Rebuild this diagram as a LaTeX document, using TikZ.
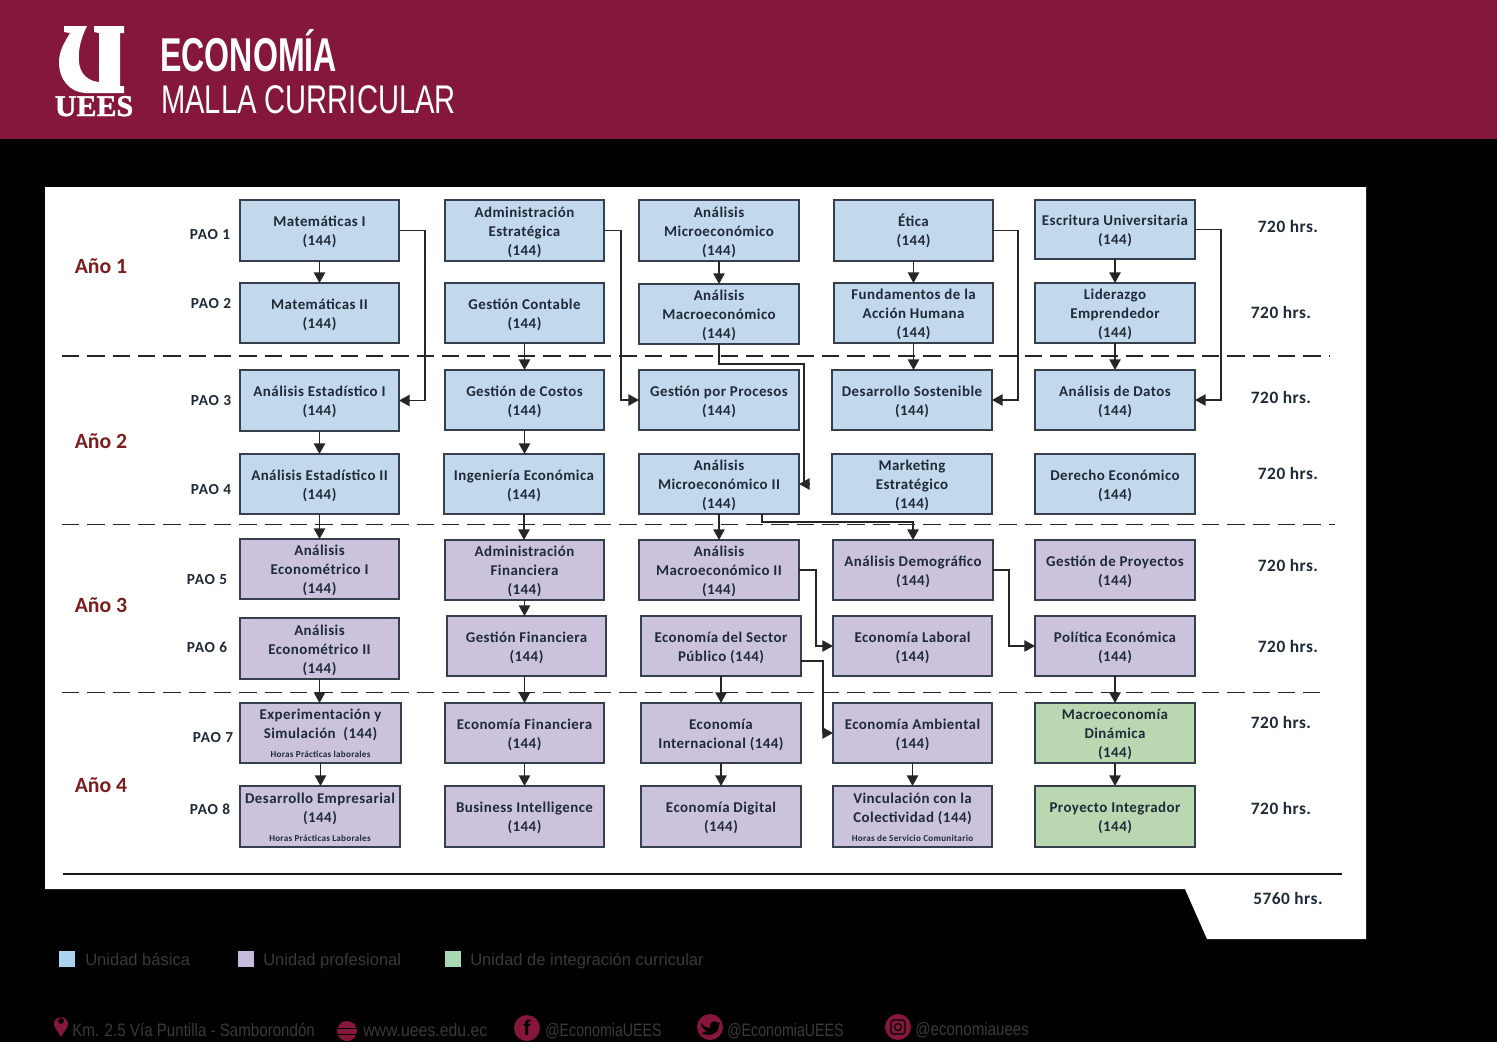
\documentclass[tikz,border=0pt]{standalone}
\usepackage{fontspec}
\usepackage{graphicx}
\setmainfont{Carlito}
\newfontfamily\hsans{Liberation Sans}
\newfontfamily\hserif{Liberation Serif}
\usetikzlibrary{arrows.meta,shadows}
\definecolor{crimson}{HTML}{84173A}
\definecolor{bluebox}{HTML}{C2D8EC}
\definecolor{purplebox}{HTML}{CBC3DE}
\definecolor{greenbox}{HTML}{B9D8B1}
\definecolor{inkc}{HTML}{1F2A38}
\definecolor{edgec}{HTML}{36404C}
\definecolor{yearc}{HTML}{7A1E1E}
\definecolor{dimtext}{HTML}{3A3A3A}
\definecolor{legb}{HTML}{A9D3EE}
\definecolor{legp}{HTML}{C5BBDC}
\definecolor{legg}{HTML}{A9D8B4}
\tikzset{
  box/.style={draw=edgec,line width=.9pt,inner sep=0pt,outer sep=0pt,align=center,text=inkc,
    font=\addfontfeature{LetterSpace=3}\fontsize{11.2}{14.25}\selectfont\bfseries,
    drop shadow={shadow xshift=0.5pt,shadow yshift=-1pt,opacity=.25,fill=black}},
  conn/.style={draw=black!85,line width=1.1pt,-{Triangle[length=8pt,width=8.5pt]}},
  connthin/.style={draw=black!85,line width=.8pt,-{Triangle[length=8pt,width=8.5pt]}},
  plainl/.style={draw=black!85,line width=1.1pt},
  sep/.style={draw=black!85,line width=1.2pt,dash pattern=on 13pt off 6pt},
  pao/.style={font=\addfontfeature{LetterSpace=5}\fontsize{11.5}{13}\selectfont\bfseries,text=inkc,inner sep=0pt},
  hrs/.style={font=\addfontfeature{LetterSpace=3}\fontsize{13}{15}\selectfont\bfseries,text=inkc,inner sep=0pt},
  year/.style={font=\fontsize{16.3}{18}\selectfont\bfseries,text=yearc,inner sep=0pt},
  legt/.style={font=\hsans\fontsize{12.4}{14}\selectfont,text=dimtext,inner sep=0pt,anchor=base west},
  foot/.style={font=\hsans\fontsize{13.5}{16}\selectfont,text=dimtext,inner sep=0pt,anchor=west},
  sq/.style={inner sep=0pt,minimum width=12pt,minimum height=12pt},
  ico/.style={circle,fill=crimson,inner sep=0pt,minimum size=19.5pt,text=black},
}
\newcommand{\bx}[7]{%
  \pgfmathsetmacro{\bw}{(#4-#2)*0.75}\pgfmathsetmacro{\bh}{(#5-#3)*0.75}%
  \node[box,fill=#6,minimum width=\bw pt,minimum height=\bh pt] (#1) at ({(#2+#4)/2},{(#3+#5)/2})
    {\raisebox{-1.4pt}[\height][\depth]{\begin{tabular}{@{}c@{}}#7\end{tabular}}};}
\newcommand{\smalln}[1]{{\fontsize{6.85}{14.25}\selectfont #1}}
\begin{document}
\begin{tikzpicture}[x=0.75pt,y=-0.75pt]
\useasboundingbox (0,0) rectangle (1497,1058);
% backgrounds
\fill[black] (0,139) rectangle (1497,1042);
\fill[crimson] (0,0) rectangle (1497,139);
\fill[white] (45,187) -- (1366,187) -- (1366,939) -- (1207,939) -- (1185,889) -- (45,889) -- cycle;
% logo
\fill[white] (64,26) -- (87,26) .. controls (80,40) and (78,52) .. (79,62) .. controls (80,74) and (88,81) .. (99,82)
  -- (99,33) -- (94,32) -- (94,26) -- (124,26) -- (124,33) -- (120,33) -- (120,86) -- (124,86) -- (124,93) -- (85,93)
  .. controls (70,92) and (59,80) .. (59,62) .. controls (59,50) and (66,40) .. (70,33) -- (64,32) -- cycle;
\node[inner sep=0pt,anchor=base,text=white,font=\hserif\bfseries\addfontfeature{FakeBold=1.5}\fontsize{22.5}{24}\selectfont] (logot) at (94,116) {UEES};
\node[inner sep=0pt,anchor=base west,text=white,font=\hsans\fontsize{35.6}{38}\selectfont\bfseries] (title) at (160,71) {\scalebox{.677}[1]{ECONOMÍA}};
\node[inner sep=0pt,anchor=base west,text=white,font=\hsans\fontsize{30}{32}\selectfont] (subt) at (161,113) {\scalebox{.728}[1]{MALLA CURRICULAR}};
% separators
\coordinate (s1a) at (62,356); \coordinate (s1b) at (1330,356);
\coordinate (s2a) at (62,524.5); \coordinate (s2b) at (1335,524.5);
\coordinate (s3a) at (62,692.5); \coordinate (s3b) at (1320,692.5);
\coordinate (s4a) at (63,874); \coordinate (s4b) at (1342,874);
\draw[sep] (s1a) -- (s1b);
\draw[sep] (s2a) -- (s2b);
\draw[sep] (s3a) -- (s3b);
\draw[draw=black!90,line width=2pt] (s4a) -- (s4b);
% boxes row 1
\bx{m1}{240}{200}{399}{261}{bluebox}{Matemáticas I\\(144)}
\bx{adm}{445}{200}{604}{261}{bluebox}{Administración\\Estratégica\\(144)}
\bx{amic}{639}{200}{799}{261}{bluebox}{Análisis\\Microeconómico\\(144)}
\bx{eti}{834}{200}{993}{261}{bluebox}{Ética\\(144)}
\bx{esc}{1035}{200}{1195}{259}{bluebox}{Escritura Universitaria\\(144)}
% row 2
\bx{m2}{240}{283}{399}{343}{bluebox}{Matemáticas II\\(144)}
\bx{gc}{445}{283}{604}{343}{bluebox}{Gestión Contable\\(144)}
\bx{amac}{639}{284}{799}{344}{bluebox}{Análisis\\Macroeconómico\\(144)}
\bx{fund}{834}{283}{993}{343}{bluebox}{Fundamentos de la\\Acción Humana\\(144)}
\bx{lid}{1035}{283}{1195}{343}{bluebox}{Liderazgo\\Emprendedor\\(144)}
% row 3
\bx{ae1}{240}{370}{399}{431}{bluebox}{Análisis Estadístico I\\(144)}
\bx{gcos}{445}{370}{604}{430}{bluebox}{Gestión de Costos\\(144)}
\bx{gpp}{639}{370}{799}{430}{bluebox}{Gestión por Procesos\\(144)}
\bx{ds}{832}{370}{992}{430}{bluebox}{Desarrollo Sostenible\\(144)}
\bx{adat}{1035}{370}{1195}{430}{bluebox}{Análisis de Datos\\(144)}
% row 4
\bx{ae2}{240}{454}{399}{514}{bluebox}{Análisis Estadístico II\\(144)}
\bx{ie}{444}{454}{604}{514}{bluebox}{Ingeniería Económica\\(144)}
\bx{am2}{639}{454}{799}{514}{bluebox}{Análisis\\Microeconómico II\\(144)}
\bx{mkt}{832}{454}{992}{514}{bluebox}{Marketing\\Estratégico\\(144)}
\bx{dec}{1035}{454}{1195}{514}{bluebox}{Derecho Económico\\(144)}
% row 5
\bx{aec1}{240}{539}{399}{599}{purplebox}{Análisis\\Econométrico I\\(144)}
\bx{af}{445}{540}{604}{600}{purplebox}{Administración\\Financiera\\(144)}
\bx{amac2}{639}{540}{799}{600}{purplebox}{Análisis\\Macroeconómico II\\(144)}
\bx{adem}{833}{540}{993}{600}{purplebox}{Análisis Demográfico\\(144)}
\bx{gp}{1035}{540}{1195}{600}{purplebox}{Gestión de Proyectos\\(144)}
% row 6
\bx{aec2}{240}{618}{399}{679}{purplebox}{Análisis\\Econométrico II\\(144)}
\bx{gf}{447}{616}{606}{676}{purplebox}{Gestión Financiera\\(144)}
\bx{esp}{641}{616}{801}{676}{purplebox}{Economía del Sector\\Público (144)}
\bx{el}{833}{616}{992}{676}{purplebox}{Economía Laboral\\(144)}
\bx{pe}{1035}{616}{1195}{676}{purplebox}{Política Económica\\(144)}
% row 7
\bx{exp}{240}{703}{401}{763}{purplebox}{Experimentación y\\Simulación~ (144)\\\smalln{Horas Prácticas laborales}}
\bx{efin}{445}{703}{604}{763}{purplebox}{Economía Financiera\\(144)}
\bx{ei}{641}{703}{801}{763}{purplebox}{Economía\\Internacional (144)}
\bx{ea}{833}{703}{992}{763}{purplebox}{Economía Ambiental\\(144)}
\bx{mdin}{1035}{703}{1195}{763}{greenbox}{Macroeconomía\\Dinámica\\(144)}
% row 8
\bx{de}{240}{786}{400}{847}{purplebox}{Desarrollo Empresarial\\(144)\\\smalln{Horas Prácticas Laborales}}
\bx{bi}{445}{786}{604}{847}{purplebox}{Business Intelligence\\(144)}
\bx{ed}{641}{786}{801}{847}{purplebox}{Economía Digital\\(144)}
\bx{vc}{833}{786}{992}{847}{purplebox}{Vinculación con la\\Colectividad (144)\\\smalln{Horas de Servicio Comunitario}}
\bx{pi}{1035}{786}{1195}{847}{greenbox}{Proyecto Integrador\\(144)}
% vertical connectors
\foreach \a/\b in {m1/m2,amic/amac,eti/fund,esc/lid,gc/gcos,fund/ds,lid/adat,ae1/ae2,gcos/ie,ae2/aec1,ie/af,am2/amac2,af/gf,aec2/exp,esp/ei,pe/mdin,exp/de,efin/bi,ei/ed,ea/vc,mdin/pi}{
  \draw[conn] (\a.south) -- (\a.south |- \b.north);
}
\draw[conn] ([xshift=-1.5pt]gf.south) -- ([xshift=-1.5pt]gf.south |- efin.north);
% elbows
\draw[conn] (m1.east) -- ++(26,0) |- (ae1.east);
\draw[conn] (adm.east) -- ++(17,0) |- (gpp.west);
\draw[conn] (eti.east) -- ++(25,0) |- (ds.east);
\draw[conn] (esc.east) -- ++(26,0) |- (adat.east);
\draw[connthin] (amac2.east) -- ++(17,0) |- (el.west);
\draw[connthin] (adem.east) -- ++(16,0) |- (pe.west);
\draw[conn] ([yshift=-11.25pt]esp.east) -- ++(22,0) |- (ea.west);
\coordinate (am2mid) at ([xshift=3.75pt]am2.east);
\coordinate (am2end) at ([xshift=8pt]am2.east);
\draw[plainl] (amac.south) -- ++(0,20) -| (am2mid);
\draw[conn] (am2end) -- (am2.east);
\draw[conn] ([xshift=32.25pt]am2.south) -- ++(0,8) -| (adem.north);
% PAO labels
\node[pao] (p1) at (210,235) {PAO 1};
\node[pao] (p2) at (211,304) {PAO 2};
\node[pao] (p3) at (211,401) {PAO 3};
\node[pao] (p4) at (211,490) {PAO 4};
\node[pao] (p5) at (207,580) {PAO 5};
\node[pao] (p6) at (207,647) {PAO 6};
\node[pao] (p7) at (213,738) {PAO 7};
\node[pao] (p8) at (210,809) {PAO 8};
% years
\node[year] (y1) at (101,266) {Año 1};
\node[year] (y2) at (101,441) {Año 2};
\node[year] (y3) at (101,605) {Año 3};
\node[year] (y4) at (101,785) {Año 4};
% hours
\node[hrs] (h1) at (1288,226) {720 hrs.};
\node[hrs] (h2) at (1281,312) {720 hrs.};
\node[hrs] (h3) at (1281,397) {720 hrs.};
\node[hrs] (h4) at (1288,473) {720 hrs.};
\node[hrs] (h5) at (1288,565) {720 hrs.};
\node[hrs] (h6) at (1288,646) {720 hrs.};
\node[hrs] (h7) at (1281,722) {720 hrs.};
\node[hrs] (h8) at (1281,808) {720 hrs.};
\node[hrs] (ht) at (1288,898) {5760 hrs.};
% legend
\node[sq,fill=legb] (l1) at (67,959) {};
\node[sq,fill=legp] (l2) at (245.5,959) {};
\node[sq,fill=legg] (l3) at (452.5,959) {};
\node[legt] (lt1) at (85,965) {Unidad básica};
\node[legt] (lt2) at (263,965) {Unidad profesional};
\node[legt] (lt3) at (470,965) {Unidad de integración curricular};
% footer
\fill[crimson,even odd rule] (61,1037) .. controls (58,1031) and (54,1028) .. (54,1024) .. controls (54,1015) and (68,1015) .. (68,1024) .. controls (68,1028) and (64,1031) .. (61,1037) -- cycle (61,1021) circle (3);
\node[foot] (f1) at (72,1030) {\scalebox{.84}[1]{Km. 2.5 Vía Puntilla - Samborondón}};
\fill[crimson] (347,1031) circle (10);
\draw[black,line width=.7pt] (337,1028) -- (357,1028) (337,1034) -- (357,1034);
\node[foot] (f2) at (363,1030) {\scalebox{.88}[1]{www.uees.edu.ec}};
\node[ico,font=\hsans\fontsize{16}{16}\selectfont\bfseries] (ifb) at (527,1028) {f};
\node[foot] (f3) at (545,1031) {\scalebox{.79}[1]{@EconomiaUEES}};
\node[ico] (itw) at (710,1027) {};
\fill[black] (701,1023) .. controls (704,1027) and (707,1028) .. (710,1028) .. controls (709,1022) and (715,1019) .. (718,1023) -- (720,1022) -- (719,1025) .. controls (719,1032) and (711,1038) .. (701,1033) .. controls (704,1033) and (706,1032) .. (707,1031) .. controls (704,1030) and (701,1027) .. (701,1023) -- cycle;
\node[foot] (f4) at (727,1031) {\scalebox{.79}[1]{@EconomiaUEES}};
\node[ico] (iig) at (898,1027) {};
\draw[black,line width=.9pt,rounded corners=2pt] (891,1020) rectangle (905,1034);
\draw[black,line width=.9pt] (898,1027) circle (3.5);
\node[foot] (f5) at (915,1030) {\scalebox{.84}[1]{@economiauees}};
\end{tikzpicture}
\end{document}
